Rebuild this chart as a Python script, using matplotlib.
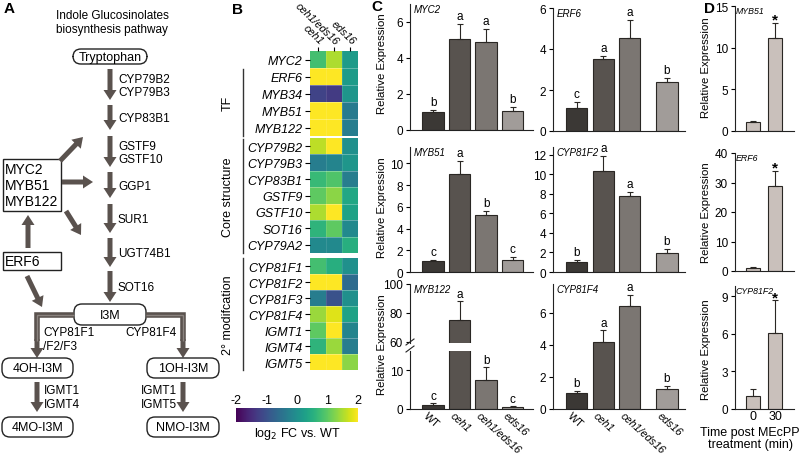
import matplotlib
matplotlib.use("Agg")
import numpy as np
import matplotlib.pyplot as plt
from matplotlib.patches import FancyArrow, FancyBboxPatch, Rectangle
from matplotlib.lines import Line2D
import matplotlib.transforms as mtransforms

plt.rcParams['font.family'] = ['Liberation Sans', 'DejaVu Sans']
plt.rcParams['axes.unicode_minus'] = False
plt.rcParams['font.size'] = 8.5

W, H = 800, 456

# ---- panel B data (log2 FC vs WT): columns ceh1, ceh1/eds16, eds16
hm_cols = ['ceh1', 'ceh1/eds16', 'eds16']
tf_genes = ['MYC2', 'ERF6', 'MYB34', 'MYB51', 'MYB122']
tf_fc = [[0.8, 1.5, 0.2], [2.0, 2.0, 0.2], [-1.2, -1.3, 0.1], [2.0, 2.0, -0.35], [2.0, 2.0, -0.3]]
core_genes = ['CYP79B2', 'CYP79B3', 'CYP83B1', 'GSTF9', 'GSTF10', 'SOT16', 'CYP79A2']
core_fc = [[1.6, 2.0, 0.0], [-0.3, -0.2, 0.1], [0.7, 0.9, -0.3], [1.0, 1.3, 0.4],
           [1.5, 2.0, 0.3], [0.6, 1.0, -0.1], [-0.1, -0.1, 0.5]]
mod_genes = ['CYP81F1', 'CYP81F2', 'CYP81F3', 'CYP81F4', 'IGMT1', 'IGMT4', 'IGMT5']
mod_fc = [[0.8, 0.5, 0.0], [2.0, 2.0, -0.6], [-0.3, -1.0, 0.0], [1.4, 1.8, 0.3],
          [1.0, 2.0, -0.2], [0.6, 1.4, -0.3], [2.0, 2.0, 1.3]]

# ---- panel C data
genotypes = ['WT', 'ceh1', 'ceh1/eds16', 'eds16']
myc2_val = [1.0, 5.05, 4.88, 1.07]
myc2_err = [0.1, 0.85, 0.72, 0.2]
myc2_let = ['b', 'a', 'a', 'b']
erf6_val = [1.1, 3.5, 4.55, 2.4]
erf6_err = [0.3, 0.15, 0.85, 0.2]
erf6_let = ['c', 'a', 'a', 'b']
myb51_val = [1.0, 9.0, 5.2, 1.1]
myb51_err = [0.1, 1.2, 0.45, 0.25]
myb51_let = ['c', 'a', 'b', 'c']
cyp81f2_val = [1.0, 10.3, 7.8, 1.9]
cyp81f2_err = [0.2, 1.6, 0.4, 0.5]
cyp81f2_let = ['b', 'a', 'a', 'b']
myb122_val = [1.0, 75.0, 7.4, 0.5]
myb122_err = [0.5, 13.0, 3.4, 0.3]
myb122_let = ['c', 'a', 'b', 'c']
cyp81f4_val = [1.0, 4.2, 6.4, 1.25]
cyp81f4_err = [0.1, 0.7, 0.7, 0.2]
cyp81f4_let = ['b', 'a', 'a', 'b']

# ---- panel D data (time post MEcPP, min)
times = ['0', '30']
d_myb51_val = [1.05, 11.2]
d_myb51_err = [0.15, 1.8]
d_erf6_val = [1.0, 28.7]
d_erf6_err = [0.2, 5.3]
d_cyp81f2_val = [1.0, 6.05]
d_cyp81f2_err = [0.6, 2.6]

BAR_C = ['#3b3835', '#58534f', '#7b7672', '#a19c99']
D_C = '#c9c0bb'
EDGE = '#2a2724'
ARROW_C = '#5a524e'


def px_axes(fig, x0, y0, x1, y1, **kw):
    return fig.add_axes([x0 / W, 1 - y1 / H, (x1 - x0) / W, (y1 - y0) / H], **kw)


def ftext(fig, x, y, s, **kw):
    fig.text(x / W, 1 - y / H, s, **kw)


def style_axes(ax):
    for s in ['top', 'right']:
        ax.spines[s].set_visible(False)
    for s in ['left', 'bottom']:
        ax.spines[s].set_linewidth(0.8)
        ax.spines[s].set_color('#222222')
    ax.tick_params(axis='y', direction='out', length=3, width=0.8, pad=2, labelsize=8.5)
    ax.tick_params(axis='x', length=0)


def bars(ax, pos, vals, errs, colors, letters=None, lab_size=8.5):
    ax.bar(pos, vals, width=0.8, color=colors, edgecolor=EDGE, linewidth=0.8, zorder=2)
    ax.errorbar(pos, vals, yerr=[np.zeros(len(vals)), errs], fmt='none',
                ecolor=EDGE, elinewidth=0.8, capsize=2.2, capthick=0.8, zorder=3)
    if letters is not None:
        lo, hi = ax.get_ylim()
        pad = 0.015 * (hi - lo)
        for p, v, e, l in zip(pos, vals, errs, letters):
            if lo <= v + e <= hi + 5 * pad:
                ax.text(p, v + e + pad, l, ha='center', va='bottom', size=lab_size)


def gene_title(ax, name, x=0.03, y=1.0, size=7):
    ax.text(x, y, name, transform=ax.transAxes, style='italic', ha='left', va='top', size=size)


def c_panel(fig, box, pos, xlim, vals, errs, lets, gene, ylim, yticks):
    ax = px_axes(fig, *box)
    style_axes(ax)
    ax.set_xlim(*xlim)
    ax.set_ylim(*ylim)
    ax.set_yticks(yticks)
    bars(ax, pos, vals, errs, BAR_C, lets)
    ax.set_xticks([])
    gene_title(ax, gene)
    return ax


def genotype_labels(ax, pos):
    ax.set_xticks(pos)
    labs = ax.set_xticklabels(genotypes, rotation=-42, ha='left', va='top',
                              rotation_mode='anchor', size=7.8)
    ax.tick_params(axis='x', pad=0.5)
    off = mtransforms.ScaledTranslation(-5 / 100, 0, ax.figure.dpi_scale_trans)
    for i, t in enumerate(labs):
        t.set_transform(t.get_transform() + off)
        if i > 0:
            t.set_style('italic')


def arrow(ax, x0, y0, x1, y1, w=5, hw=13, hl=10):
    ax.add_patch(FancyArrow(x0, y0, x1 - x0, y1 - y0, width=w, head_width=hw,
                            head_length=hl, length_includes_head=True,
                            color=ARROW_C, lw=0))


def rbox(ax, x0, y0, x1, y1, label, size=9):
    ax.add_patch(FancyBboxPatch((x0, y0), x1 - x0, y1 - y0,
                                boxstyle='round,pad=0,rounding_size=8',
                                fc='white', ec='#222222', lw=1.0))
    ax.text((x0 + x1) / 2, (y0 + y1) / 2 + 0.5, label, ha='center', va='center', size=size)


fig = plt.figure(figsize=(8, 4.56), dpi=100)

# ================= Panel A: pathway diagram =================
axA = px_axes(fig, 0, 0, 230, 456)
axA.set_xlim(0, 230)
axA.set_ylim(456, 0)
axA.axis('off')
axA.patch.set_alpha(0)

axA.text(112, 23, 'Indole Glucosinolates\nbiosynthesis pathway', ha='center', va='center',
         size=8.5, linespacing=1.15)
rbox(axA, 73, 50, 147, 65, 'Tryptophan')

steps = [(['CYP79B2', 'CYP79B3'], 70, 101), (['CYP83B1'], 106, 131),
         (['GSTF9', 'GSTF10'], 137, 168), (['GGP1'], 173, 199), (['SUR1'], 205, 234),
         (['UGT74B1'], 239, 268), (['SOT16'], 272, 303)]
for names, y0, y1 in steps:
    arrow(axA, 110, y0, 110, y1)
    axA.text(118, (y0 + y1) / 2 + 1, '\n'.join(names), ha='left', va='center',
             size=8.5, linespacing=1.2)

rbox(axA, 74, 305, 146, 326, 'I3M')

# branches from I3M
for xs, ys in [([74, 37, 37], [316, 316, 342]), ([146, 183, 183], [316, 316, 342])]:
    axA.plot(xs, ys, color=ARROW_C, lw=4.0, solid_joinstyle='miter', solid_capstyle='butt')
    axA.plot(xs, ys, color='#8a837f', lw=1.0, solid_joinstyle='miter', solid_capstyle='butt')
arrow(axA, 37, 340, 37, 359)
arrow(axA, 183, 340, 183, 359)
axA.text(43, 340, 'CYP81F1\n/F2/F3', ha='left', va='center', size=8.5, linespacing=1.2)
axA.text(177, 333, 'CYP81F4', ha='right', va='center', size=8.5)

rbox(axA, 2, 359, 73, 379, '4OH-I3M')
rbox(axA, 147, 359, 219, 379, '1OH-I3M')
arrow(axA, 37, 383, 37, 413)
arrow(axA, 183, 383, 183, 413)
axA.text(44, 398, 'IGMT1\nIGMT4', ha='left', va='center', size=8.5, linespacing=1.2)
axA.text(177, 398, 'IGMT1\nIGMT5', ha='right', va='center', size=8.5, linespacing=1.2)
rbox(axA, 2, 418, 73, 438, '4MO-I3M')
rbox(axA, 147, 418, 219, 438, 'NMO-I3M')

# regulators
axA.add_patch(Rectangle((3, 160), 58, 52, fc='white', ec='#222222', lw=1.0))
axA.text(5, 186, 'MYC2\nMYB51\nMYB122', ha='left', va='center', size=10, linespacing=1.15)
axA.add_patch(Rectangle((3, 253), 58, 18, fc='white', ec='#222222', lw=1.0))
axA.text(5, 262.5, 'ERF6', ha='left', va='center', size=10)
arrow(axA, 60, 162, 83, 138)
arrow(axA, 62, 183, 93, 183)
arrow(axA, 66, 212, 81, 236)
arrow(axA, 28, 249, 28, 216)
arrow(axA, 27, 277, 42, 308)

ftext(fig, 4, 9, 'A', size=11, weight='bold', va='center')

# ================= Panel B: heatmap =================
ftext(fig, 232, 10, 'B', size=11, weight='bold', va='center')
groups = [(tf_genes, tf_fc, 52, 137), (core_genes, core_fc, 139, 254), (mod_genes, mod_fc, 259, 371)]
im = None
for gi, (genes, fc, y0, y1) in enumerate(groups):
    ax = px_axes(fig, 310, y0, 358, y1)
    im = ax.imshow(np.array(fc), cmap='viridis', vmin=-2, vmax=2, aspect='auto',
                   interpolation='nearest')
    for r in range(len(genes) - 1):
        ax.axhline(r + 0.5, color='white', lw=0.6, alpha=0.35)
    for c in range(2):
        ax.axvline(c + 0.5, color='white', lw=0.4, alpha=0.2)
    for s in ax.spines.values():
        s.set_visible(False)
    ax.set_yticks(range(len(genes)))
    ax.set_yticklabels(genes, style='italic', size=9)
    ax.tick_params(axis='y', length=3.5, width=0.8, pad=2)
    if gi == 0:
        ax.xaxis.tick_top()
        ax.set_xticks(range(3))
        ax.set_xticklabels(hm_cols, style='italic', size=7.8, rotation=-44, ha='right',
                           va='bottom', rotation_mode='anchor')
        ax.tick_params(axis='x', length=3, width=0.8, pad=0.5)
    else:
        ax.set_xticks([])

# group brackets
for lab, y0, y1 in [('TF', 70, 137), ('Core structure', 140, 254), ('2° modifcation', 259, 371)]:
    fig.add_artist(Line2D([243 / W, 243 / W], [1 - y0 / H, 1 - y1 / H], color='#333333', lw=1.0))
    ftext(fig, 228, (y0 + y1) / 2, lab, rotation=90, ha='center', va='center', size=9)

cax = px_axes(fig, 236, 409, 358, 423)
cb = fig.colorbar(im, cax=cax, orientation='horizontal')
cb.outline.set_visible(False)
cb.set_ticks([-2, -1, 0, 1, 2])
cax.xaxis.set_ticks_position('top')
cax.tick_params(length=0, pad=1.5, labelsize=9)
cax.set_xticklabels(['-2', '-1', '0', '1', '2'])
cax.xaxis.set_label_position('bottom')
cax.set_xlabel('log$_2$ FC vs. WT', size=9, labelpad=2)

# ================= Panel C: bar charts =================
ftext(fig, 371, 7, 'C', size=11, weight='bold', va='center')
pos1 = np.arange(4)
xlim1 = (-0.87, 3.77)
pos2 = np.array([0, 1, 2, 3.4])
xlim2 = (-0.9, 4.08)

c_panel(fig, (410, 5, 533, 131), pos1, xlim1, myc2_val, myc2_err, myc2_let, 'MYC2', (0, 7), [0, 2, 4, 6])
c_panel(fig, (553, 9, 685, 132), pos2, xlim2, erf6_val, erf6_err, erf6_let, 'ERF6', (0, 6), [0, 2, 4, 6])
c_panel(fig, (410, 148, 533, 273), pos1, xlim1, myb51_val, myb51_err, myb51_let, 'MYB51', (0, 11.5), [0, 2, 4, 6, 8, 10])
c_panel(fig, (553, 148, 685, 273), pos2, xlim2, cyp81f2_val, cyp81f2_err, cyp81f2_let, 'CYP81F2', (0, 12.8), [0, 2, 4, 6, 8, 10, 12])
axF4 = c_panel(fig, (553, 285, 685, 410), pos2, xlim2, cyp81f4_val, cyp81f4_err, cyp81f4_let, 'CYP81F4', (0, 7.8), [0, 2, 4, 6])
genotype_labels(axF4, pos2)

# MYB122 with broken axis
axLo = px_axes(fig, 410, 352, 533, 410)
style_axes(axLo)
axLo.set_xlim(*xlim1)
axLo.set_ylim(0, 15)
axLo.set_yticks([0, 10])
bars(axLo, pos1, myb122_val, myb122_err, BAR_C, myb122_let)
genotype_labels(axLo, pos1)

axUp = px_axes(fig, 410, 285, 533, 344)
style_axes(axUp)
axUp.spines['bottom'].set_visible(False)
axUp.set_xlim(*xlim1)
axUp.set_ylim(59, 100)
axUp.set_yticks([60, 80, 100])
axUp.set_xticks([])
bars(axUp, pos1, myb122_val, myb122_err, BAR_C, myb122_let)
gene_title(axUp, 'MYB122')
for yb in (343, 350):
    fig.add_artist(Line2D([406 / W, 414 / W], [1 - (yb + 3) / H, 1 - (yb - 3) / H],
                          color='#222222', lw=0.8))

for yc in (64, 208, 345):
    ftext(fig, 382, yc, 'Relative Expression', rotation=90, ha='center', va='center', size=8.2)

# ================= Panel D =================
ftext(fig, 704, 9, 'D', size=11, weight='bold', va='center')
dpos = np.arange(2)
dxlim = (-0.78, 1.83)
d_specs = [((735, 7, 794, 132), d_myb51_val, d_myb51_err, 'MYB51', (0, 15), [0, 5, 10, 15]),
           ((735, 154, 794, 272), d_erf6_val, d_erf6_err, 'ERF6', (0, 40), [0, 10, 20, 30, 40]),
           ((735, 287, 794, 410), d_cyp81f2_val, d_cyp81f2_err, 'CYP81F2', (0, 9.8), [0, 3, 6, 9])]
for i, (box, v, e, g, yl, yt) in enumerate(d_specs):
    ax = px_axes(fig, *box)
    style_axes(ax)
    ax.set_xlim(*dxlim)
    ax.set_ylim(*yl)
    ax.set_yticks(yt)
    ax.bar(dpos, v, width=0.61, color=D_C, edgecolor=EDGE, linewidth=0.8, zorder=2)
    ax.errorbar(dpos, v, yerr=[np.zeros(2), e], fmt='none', ecolor=EDGE, elinewidth=0.8,
                capsize=2.2, capthick=0.8, zorder=3)
    ax.annotate('*', (dpos[1], v[1] + e[1]), xytext=(0, 2), textcoords='offset points',
                ha='center', va='center', size=11, weight='bold')
    gene_title(ax, g, x=0.01, size=6.3)
    if i == 2:
        ax.set_xticks(dpos)
        ax.set_xticklabels(times, size=9)
        ax.tick_params(axis='x', pad=1)
    else:
        ax.set_xticks([])

for yc in (68, 213, 350):
    ftext(fig, 706, yc, 'Relative Expression', rotation=90, ha='center', va='center', size=8.2)
ftext(fig, 750, 439, 'Time post MEcPP\ntreatment (min)', ha='center', va='center', size=9,
      linespacing=1.1)

fig.savefig('out.png', dpi=100)
